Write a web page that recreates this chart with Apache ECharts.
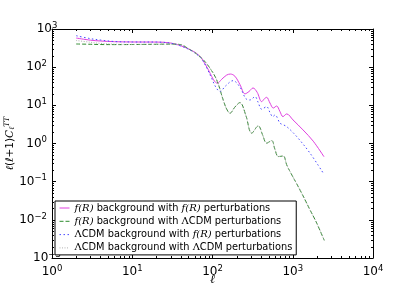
<!DOCTYPE html>
<html><head><meta charset="utf-8">
<script src="https://cdn.jsdelivr.net/npm/echarts/dist/echarts.min.js"></script>
<style>html,body{margin:0;padding:0;background:#fff}#c{width:415px;height:288px}</style>
</head><body><div id="c"></div>
<script>
// f(R) background with f(R) perturbations
const magentaL = [2,3,4,6,10,20,30,40,52,63,73,89,98,107,115,130,150,167,190,220,254,285,320,360,410,445,473,520,572,630,690,755,841,1007,1342,1800,2450];
const magentaV = [580,510,485,465,457,455,430,366,290,231,171,84.5,56.5,41.7,38,48,62,66,58,35,20,23,28.5,22,12.5,15,16.2,11.5,8.5,9.6,7,5.06,5.96,4.15,2.27,1.15,0.45];
// f(R) background with LCDM perturbations
const greenL = [2,3,4,6,10,20,30,40,52,63,77,93,113,136,150,165,190,220,260,308,372,420,473,547,600,661,762,841,925,1230,1640,1990,2470];
const greenV = [405,398,392,390,392,398,402,390,290,225,155,94,46,13.8,8,6.2,9,11.8,5.5,1.86,2.9,1.7,1.02,1.19,0.7,0.454,0.47,0.275,0.184,0.061,0.0183,0.0082,0.0029];
// LCDM background with f(R) perturbations
const blueL = [2,3,4,6,10,20,30,40,52,63,73,85,98,110,124,145,180,220,260,293,339,370,410,473,520,563,601,694,760,841,1120,1640,2400];
const blueV = [668,560,515,470,457,455,425,360,285,220,165,95,50,30,22.9,32,44.3,30,15,13.8,16.9,12,7.9,9.25,6.5,5.06,5.6,3.4,3.1,2.77,1.52,0.56,0.167];
// LCDM background with LCDM perturbations
const greyL = [2,3,4,6,10,20,30,40,52,63,77,93,113,136,150,165,190,220,260,308,372,420,473,547,600,661,762,841,925,1230,1640,1990,2470];
const greyV = [500,450,420,400,395,398,402,390,290,225,155,94,46,13.8,8,6.2,9,11.8,5.5,1.86,2.9,1.7,1.02,1.19,0.7,0.454,0.47,0.275,0.184,0.061,0.0183,0.0082,0.0029];

const xTicks = [1,10,100,1000,10000];
const yTicks = [0.001,0.01,0.1,1,10,100,1000];

const names = ['a','b','c','d'];
const legendText = {
  a: '{i|f(R)} background with {i|f(R)} perturbations',
  b: '{i|f(R)} background with {g|Λ}CDM perturbations',
  c: '{g|Λ}CDM background with {i|f(R)} perturbations',
  d: '{g|Λ}CDM background with {g|Λ}CDM perturbations'
};
function zip(a,b){return a.map((v,i)=>[v,b[i]]);}

const chart = echarts.init(document.getElementById('c'), null, {renderer:'canvas'});
const supLabel = v => { const e = Math.round(Math.log10(v)); return '{b|10}{s|' + (e<0?'−'+(-e):e) + '}'; };
const labelRich = {b:{fontSize:12,fontFamily:'DejaVu Sans',color:'#000'}, s:{fontSize:8.5,fontFamily:'DejaVu Sans',color:'#000',padding:[0,0,7,0]}};
const axisCommon = {
  type:'log', logBase:10,
  axisLine:{show:true,onZero:false,lineStyle:{color:'#000',width:1}},
  axisTick:{show:true,inside:true,length:4,lineStyle:{color:'#000'}},
  splitLine:{show:false}, minorTick:{show:false}, minorSplitLine:{show:false}
};
const series = [
  {name:'a', data:zip(magentaL,magentaV), color:'#e040e0', lineStyle:{color:'#e040e0',width:1,type:'solid'}},
  {name:'b', data:zip(greenL,greenV), color:'#2e8b2e', lineStyle:{color:'#2e8b2e',width:1,type:[4,2]}},
  {name:'c', data:zip(blueL,blueV), color:'#4a4aff', lineStyle:{color:'#4a4aff',width:1,type:[1.5,2.5]}},
  {name:'d', data:zip(greyL,greyV), color:'#b0b0b0', lineStyle:{color:'#b0b0b0',width:1,type:[1,1.5]}}
].map(s => Object.assign({type:'line', symbol:'none', showSymbol:false, smooth:0.35, xAxisIndex:0, yAxisIndex:0, z:2}, s));

chart.setOption({
  animation:false,
  backgroundColor:'#fff',
  grid:{left:52,right:42,top:29,bottom:30,containLabel:false,outerBoundsMode:'none'},
  xAxis:[
    Object.assign({}, axisCommon, {position:'bottom', min:xTicks[0], max:xTicks[xTicks.length-1], interval:1,
      axisLabel:{margin:6,formatter:supLabel,rich:labelRich,alignMinLabel:'center',alignMaxLabel:'center',hideOverlap:false},
      name:'{i|ℓ}', nameLocation:'middle', nameGap:22, nameMoveOverlap:false,
      nameTextStyle:{verticalAlign:'middle',rich:{i:{fontSize:12,fontFamily:'DejaVu Serif',fontStyle:'italic',color:'#000'}}}}),
    Object.assign({}, axisCommon, {position:'top', min:xTicks[0], max:xTicks[xTicks.length-1], interval:1, axisLabel:{show:false}})
  ],
  yAxis:[
    Object.assign({}, axisCommon, {position:'left', min:yTicks[0], max:yTicks[yTicks.length-1], interval:1,
      axisLabel:{margin:5,formatter:supLabel,rich:labelRich,alignMinLabel:'center',alignMaxLabel:'center',hideOverlap:false},
      name:'{i|ℓ}(ℓ+1){i|C}{sub|ℓ}{sup|TT}', nameLocation:'middle', nameGap:42, nameRotate:90, nameMoveOverlap:false,
      nameTextStyle:{fontSize:10.5,fontFamily:'DejaVu Sans',color:'#000',align:'center',verticalAlign:'middle',rich:{
        i:{fontSize:10.5,fontFamily:'DejaVu Serif',fontStyle:'italic',color:'#000'},
        sub:{fontSize:7.5,fontFamily:'DejaVu Serif',fontStyle:'italic',color:'#000',padding:[5,0,0,0]},
        sup:{fontSize:7.5,fontFamily:'DejaVu Serif',fontStyle:'italic',color:'#000',padding:[0,0,6,0]}}}}),
    Object.assign({}, axisCommon, {position:'right', min:yTicks[0], max:yTicks[yTicks.length-1], interval:1, axisLabel:{show:false}})
  ],
  legend:{
    show:true, orient:'vertical', left:55, top:201, data:names, z:10,
    backgroundColor:'#fff', borderColor:'#000', borderWidth:1, borderRadius:0,
    padding:[2,4,2,4], itemGap:3.3, itemWidth:10, itemHeight:10,
    itemStyle:{opacity:0}, lineStyle:{width:1},
    formatter: n => legendText[n],
    textStyle:{fontSize:9.8,fontFamily:'DejaVu Sans',color:'#000',rich:{
      i:{fontSize:10,fontFamily:'DejaVu Serif',fontStyle:'italic',color:'#000'},
      g:{fontSize:10,fontFamily:'DejaVu Serif',color:'#000'}}}
  },
  series: series
});

// minor ticks (log-spaced) via the axes' own scales
function minorTicks(){
  const g = [];
  const px = v => chart.convertToPixel({xAxisIndex:0}, v);
  const py = v => chart.convertToPixel({yAxisIndex:0}, v);
  const L = px(xTicks[0]), R = px(xTicks[xTicks.length-1]);
  const B = py(yTicks[0]), T = py(yTicks[yTicks.length-1]);
  const st = {stroke:'#000', lineWidth:1};
  for (let i=0;i<xTicks.length-1;i++) for (let k=2;k<=9;k++){
    const x = Math.round(px(xTicks[i]*k))+0.5;
    g.push({type:'line', shape:{x1:x,y1:B,x2:x,y2:B-2}, style:st, silent:true, z:1});
    g.push({type:'line', shape:{x1:x,y1:T,x2:x,y2:T+2}, style:st, silent:true, z:1});
  }
  for (let i=0;i<yTicks.length-1;i++) for (let k=2;k<=9;k++){
    const y = Math.round(py(yTicks[i]*k))+0.5;
    g.push({type:'line', shape:{x1:L,y1:y,x2:L+2,y2:y}, style:st, silent:true, z:1});
    g.push({type:'line', shape:{x1:R,y1:y,x2:R-2,y2:y}, style:st, silent:true, z:1});
  }
  chart.setOption({graphic:{elements:g}});
}
minorTicks();
</script>
</body></html>
